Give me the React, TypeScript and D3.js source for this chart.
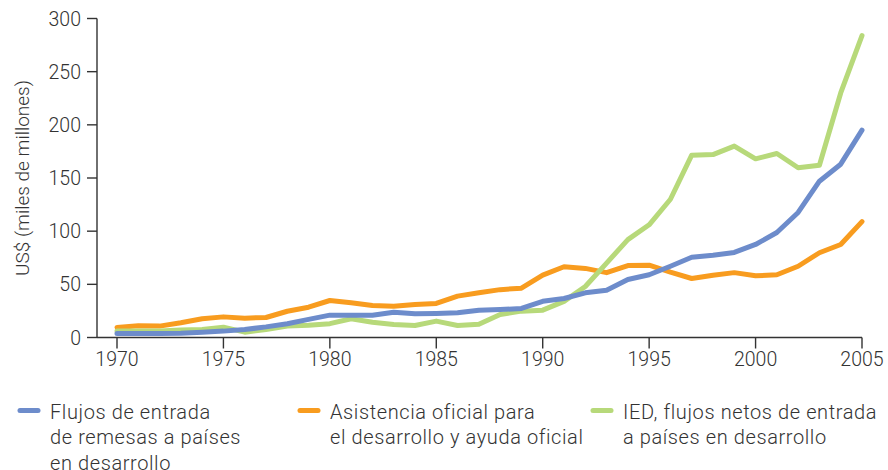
import React from "react";
import * as d3 from "d3";

const years: number[] = d3.range(1970, 2006);
const remesas = [3.8,3.8,3.8,3.9,5,6,7.5,10,13,17,21,21,21,23.8,22.3,22.6,23.2,25.7,26.3,27.3,34,36.7,42,44.5,54.6,59,67,75.5,77.4,80,87.5,98.7,117.6,147,163,195];
const ayuda = [9.5,11,10.7,13.8,17.6,19.4,18.2,18.8,24.7,28.5,34.8,32.6,30,29.4,31,32,38.9,42,45,46.4,58.6,66.5,65,61,67.7,68,61.4,55.5,58.6,61,58,59,67,79.7,87.5,109];
const ied = [6,6,6,7,7.5,9.7,5,7.5,10.7,11.6,13,17.6,14.4,12.2,11.3,15.4,11.3,12.5,21.6,24.8,25.7,34,48,70,92,106,130,171.5,172,180,168,173,159.6,162,230,284];
const yTicks = [0, 50, 100, 150, 200, 250, 300];
const xTicks = [1970, 1975, 1980, 1985, 1990, 1995, 2000, 2005];

const seriesDefs = [
  { name: "ayuda", values: ayuda, color: "#f89c1f", label: ["Asistencia oficial para", "el desarrollo y ayuda oficial"] },
  { name: "ied", values: ied, color: "#b7d97a", label: ["IED, flujos netos de entrada", "a países en desarrollo"] },
  { name: "remesas", values: remesas, color: "#6d8ccb", label: ["Flujos de entrada", "de remesas a países", "en desarrollo"] },
];
const legendOrder = ["remesas", "ayuda", "ied"];

export default function App() {
  const W = 888, H = 470;
  const x = d3.scaleLinear().domain([1970, 2005]).range([117, 862]);
  const y = d3.scaleLinear().domain([0, 300]).range([337.5, 18.5]);
  const axisX0 = 97;
  const font = "Roboto, 'Helvetica Neue', Arial, sans-serif";
  const textColor = "#333";
  const line = d3.line<number>().x((_, i) => x(years[i])).y((d) => y(d));
  const legendX = [18, 298, 591];

  return (
    <svg width={W} height={H} style={{ position: "absolute", left: 0, top: 0 }} fontFamily={font}>
      {/* y axis */}
      <line x1={axisX0} x2={axisX0} y1={y(300)} y2={y(0)} stroke="#333" strokeWidth={1.4} />
      {yTicks.map((t) => (
        <g key={t}>
          <line x1={axisX0 - 10} x2={axisX0} y1={y(t)} y2={y(t)} stroke="#333" strokeWidth={1.4} />
          <text x={81} y={y(t)} dy="0.36em" textAnchor="end" fontSize={19.5} fontWeight={300} fill={textColor}>{t}</text>
        </g>
      ))}
      {/* x axis */}
      <line x1={axisX0} x2={x(2005)} y1={y(0)} y2={y(0)} stroke="#333" strokeWidth={1.4} />
      {xTicks.map((t) => (
        <g key={t}>
          <line x1={x(t)} x2={x(t)} y1={y(0)} y2={y(0) + 11} stroke="#333" strokeWidth={1.4} />
          <text x={x(t)} y={366} textAnchor="middle" fontSize={19.5} fontWeight={300} fill={textColor}>{t}</text>
        </g>
      ))}
      <text transform={`translate(29,${178}) rotate(-90)`} textAnchor="middle" fontSize={19} fontWeight={300} fill={textColor}>US$ (miles de millones)</text>
      {/* lines */}
      {seriesDefs.map((s) => (
        <path key={s.name} d={line(s.values) || ""} fill="none" stroke={s.color} strokeWidth={5} strokeLinejoin="round" strokeLinecap="round" />
      ))}
      {/* legend */}
      {legendOrder.map((n, i) => {
        const s = seriesDefs.find((d) => d.name === n)!;
        const lx = legendX[i];
        return (
          <g key={n}>
            <line x1={lx + 2} x2={lx + 20} y1={410.5} y2={410.5} stroke={s.color} strokeWidth={5} strokeLinecap="round" />
            {s.label.map((l, j) => (
              <text key={j} x={lx + 32} y={418.5 + j * 25.5} fontSize={20} letterSpacing={0.6} fontWeight={300} fill={textColor}>{l}</text>
            ))}
          </g>
        );
      })}
    </svg>
  );
}
